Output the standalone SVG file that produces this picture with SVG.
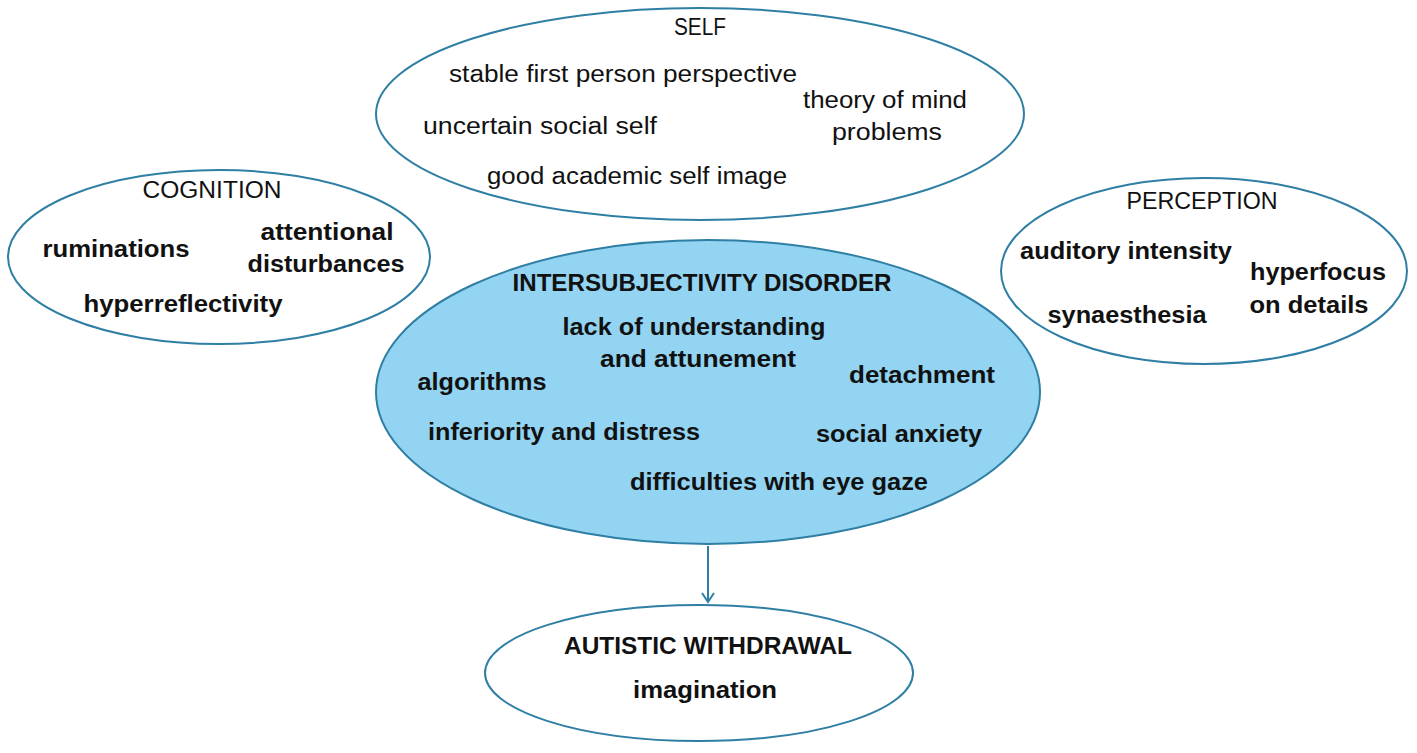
<svg xmlns="http://www.w3.org/2000/svg" width="1417" height="753" viewBox="0 0 1417 753">
<style>
.e{fill:#ffffff;stroke:#2f7fa4;stroke-width:2}
.c{fill:#92d4f1;stroke:#2f7fa4;stroke-width:2}
text{font-family:"Liberation Sans",Arial,sans-serif;font-size:23px;fill:#111;text-anchor:middle}
.b{font-weight:bold}
</style>
<defs>
<marker id="ah" markerWidth="16" markerHeight="16" refX="12" refY="7" orient="auto" markerUnits="userSpaceOnUse">
<path d="M3,1 L12,7 L3,13" fill="none" stroke="#2f7fa4" stroke-width="2"/>
</marker>
</defs>
<rect width="1417" height="753" fill="#ffffff"/>
<g id="connectors">
<line x1="708" y1="546" x2="708" y2="602" stroke="#2f7fa4" stroke-width="2" marker-end="url(#ah)"/>
</g>
<g id="self">
<ellipse class="e" cx="700" cy="114" rx="324" ry="106"/>
<text x="700" y="35" textLength="52" lengthAdjust="spacingAndGlyphs">SELF</text>
<text x="623" y="82" textLength="348" lengthAdjust="spacingAndGlyphs">stable first person perspective</text>
<text x="885" y="108" textLength="164" lengthAdjust="spacingAndGlyphs">theory of mind</text>
<text x="887" y="140" textLength="110" lengthAdjust="spacingAndGlyphs">problems</text>
<text x="540" y="134" textLength="234" lengthAdjust="spacingAndGlyphs">uncertain social self</text>
<text x="637" y="184" textLength="300" lengthAdjust="spacingAndGlyphs">good academic self image</text>
</g>
<g id="cognition">
<ellipse class="e" cx="219" cy="257" rx="211" ry="87"/>
<text x="212" y="198" textLength="139" lengthAdjust="spacingAndGlyphs">COGNITION</text>
<text class="b" x="116" y="257" textLength="147" lengthAdjust="spacingAndGlyphs">ruminations</text>
<text class="b" x="327" y="240" textLength="133" lengthAdjust="spacingAndGlyphs">attentional</text>
<text class="b" x="326" y="272" textLength="157" lengthAdjust="spacingAndGlyphs">disturbances</text>
<text class="b" x="183" y="312" textLength="199" lengthAdjust="spacingAndGlyphs">hyperreflectivity</text>
</g>
<g id="perception">
<ellipse class="e" cx="1204" cy="271" rx="203" ry="93"/>
<text x="1202" y="209" textLength="151" lengthAdjust="spacingAndGlyphs">PERCEPTION</text>
<text class="b" x="1126" y="259" textLength="212" lengthAdjust="spacingAndGlyphs">auditory intensity</text>
<text class="b" x="1318" y="280" textLength="136" lengthAdjust="spacingAndGlyphs">hyperfocus</text>
<text class="b" x="1309" y="313" textLength="119" lengthAdjust="spacingAndGlyphs">on details</text>
<text class="b" x="1127" y="323" textLength="159" lengthAdjust="spacingAndGlyphs">synaesthesia</text>
</g>
<g id="intersubjectivity">
<ellipse class="c" cx="708" cy="392" rx="332" ry="152"/>
<text class="b" x="702" y="291" textLength="379" lengthAdjust="spacingAndGlyphs">INTERSUBJECTIVITY DISORDER</text>
<text class="b" x="694" y="335" textLength="263" lengthAdjust="spacingAndGlyphs">lack of understanding</text>
<text class="b" x="698" y="367" textLength="196" lengthAdjust="spacingAndGlyphs">and attunement</text>
<text class="b" x="482" y="390" textLength="129" lengthAdjust="spacingAndGlyphs">algorithms</text>
<text class="b" x="922" y="383" textLength="146" lengthAdjust="spacingAndGlyphs">detachment</text>
<text class="b" x="564" y="440" textLength="272" lengthAdjust="spacingAndGlyphs">inferiority and distress</text>
<text class="b" x="899" y="442" textLength="166" lengthAdjust="spacingAndGlyphs">social anxiety</text>
<text class="b" x="779" y="490" textLength="298" lengthAdjust="spacingAndGlyphs">difficulties with eye gaze</text>
</g>
<g id="autistic">
<ellipse class="e" cx="699" cy="673" rx="214" ry="68"/>
<text class="b" x="708" y="654" textLength="288" lengthAdjust="spacingAndGlyphs">AUTISTIC WITHDRAWAL</text>
<text class="b" x="705" y="698" textLength="144" lengthAdjust="spacingAndGlyphs">imagination</text>
</g>
</svg>
